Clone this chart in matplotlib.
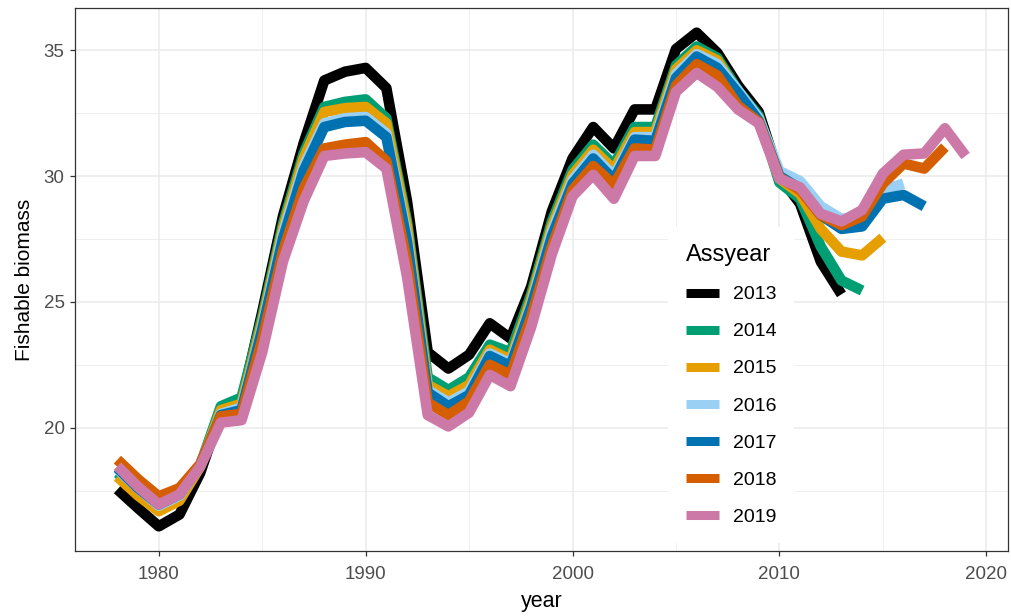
import matplotlib
matplotlib.use("Agg")
import matplotlib.pyplot as plt
from matplotlib.lines import Line2D
import numpy as np

# Fishable biomass estimates by assessment year (Assyear)
years = list(range(1978, 2020))

biomass_2013 = [17.55, 16.8, 16.08, 16.55, 18.2, 20.6, 21.0, 24.6, 28.4, 31.3,
                33.8, 34.15, 34.3, 33.5, 29.0, 23.0, 22.35, 22.9, 24.15, 23.55,
                25.6, 28.6, 30.7, 31.95, 31.1, 32.65, 32.65, 35.05, 35.7, 34.9,
                33.6, 32.55, 30.0, 28.9, 26.6, 25.3]
biomass_2014 = [18.2, 17.5, 16.8, 17.2, 18.5, 20.85, 21.2, 24.4, 28.1, 30.9,
                32.75, 32.95, 33.05, 32.3, 28.2, 22.0, 21.5, 22.0, 23.3, 23.0,
                25.3, 28.2, 30.25, 31.25, 30.45, 31.95, 31.95, 34.4, 35.15, 34.7,
                33.4, 32.4, 29.75, 29.1, 27.2, 25.85, 25.45]
biomass_2015 = [18.05, 17.3, 16.68, 17.1, 18.45, 20.7, 20.95, 24.2, 27.9, 30.7,
                32.55, 32.7, 32.75, 32.1, 28.0, 21.7, 21.25, 21.7, 23.1, 22.7,
                25.1, 28.0, 30.05, 31.05, 30.25, 31.75, 31.75, 34.25, 35.0, 34.6,
                33.3, 32.3, 29.9, 29.3, 27.9, 27.0, 26.85, 27.55]
biomass_2016 = [18.35, 17.6, 16.9, 17.3, 18.5, 20.55, 20.8, 24.0, 27.7, 30.4,
                32.1, 32.3, 32.35, 31.7, 27.6, 21.5, 21.0, 21.45, 22.95, 22.55,
                24.9, 27.8, 29.85, 30.85, 30.0, 31.55, 31.55, 34.05, 34.85, 34.45,
                33.4, 32.3, 30.2, 29.8, 28.8, 28.3, 28.4, 29.45, 29.7]
biomass_2017 = [18.4, 17.6, 16.95, 17.35, 18.5, 20.5, 20.7, 23.9, 27.5, 30.2,
                31.95, 32.15, 32.2, 31.55, 27.4, 21.4, 20.85, 21.3, 22.85, 22.45,
                24.8, 27.6, 29.7, 30.7, 29.85, 31.45, 31.4, 33.9, 34.75, 34.3,
                33.3, 32.2, 30.0, 29.5, 28.45, 27.9, 28.0, 29.1, 29.25, 28.8]
biomass_2018 = [18.73, 17.95, 17.27, 17.6, 18.55, 20.45, 20.55, 23.5, 27.0, 29.5,
                31.1, 31.25, 31.35, 30.6, 26.6, 21.0, 20.5, 21.05, 22.5, 22.1,
                24.4, 27.2, 29.45, 30.4, 29.65, 31.1, 31.05, 33.6, 34.45, 34.0,
                32.8, 32.15, 29.95, 29.45, 28.45, 28.05, 28.4, 29.7, 30.5, 30.3,
                31.15]
biomass_2019 = [18.47, 17.65, 16.95, 17.35, 18.45, 20.2, 20.3, 23.0, 26.6, 29.0,
                30.8, 30.9, 30.95, 30.3, 26.0, 20.5, 20.05, 20.6, 22.1, 21.65,
                24.0, 26.9, 29.2, 30.05, 29.1, 30.8, 30.8, 33.35, 34.1, 33.55,
                32.65, 32.1, 29.9, 29.55, 28.5, 28.2, 28.65, 30.1, 30.85, 30.9,
                31.9, 30.8]

assyears = ["2013", "2014", "2015", "2016", "2017", "2018", "2019"]
series = [biomass_2013, biomass_2014, biomass_2015, biomass_2016,
          biomass_2017, biomass_2018, biomass_2019]
colors = ["#000000", "#009E73", "#E69F00", "#9AD0F3",
          "#0072B2", "#D55E00", "#CC79A7"]

font = "Liberation Sans"
plt.rcParams["font.family"] = [font, "DejaVu Sans"]

fig = plt.figure(figsize=(10.12, 6.16), dpi=100)
ax = fig.add_axes([75 / 1012, 1 - 551 / 616, (1008 - 75) / 1012, (551 - 8) / 616])

lw = 7.6
for lab, vals, col in zip(assyears, series, colors):
    ax.plot(years[:len(vals)], vals, color=col, lw=lw,
            solid_joinstyle="round", solid_capstyle="butt", zorder=3)

# ggplot-like 5% expansion of the data range
all_vals = np.concatenate([np.asarray(s) for s in series])
x0, x1 = years[0], years[-1]
xr = x1 - x0
ax.set_xlim(x0 - 0.05 * xr, x1 + 0.05 * xr)
y0, y1 = all_vals.min(), all_vals.max()
yr = y1 - y0
ax.set_ylim(y0 - 0.05 * yr, y1 + 0.05 * yr)

ax.set_xticks([1980, 1990, 2000, 2010, 2020])
ax.set_xticks([1985, 1995, 2005, 2015], minor=True)
ax.set_yticks([20, 25, 30, 35])
ax.set_yticks([17.5, 22.5, 27.5, 32.5], minor=True)
ax.grid(which="major", color="#EBEBEB", lw=1.1, zorder=0)
ax.grid(which="minor", color="#EBEBEB", lw=0.55, zorder=0)
ax.set_axisbelow(True)

for sp in ax.spines.values():
    sp.set_color("#333333")
    sp.set_linewidth(0.9)

ax.tick_params(which="major", length=3.5, width=0.9, color="#333333",
               labelcolor="#4D4D4D", labelsize=13.5)
ax.tick_params(axis="x", which="major", pad=7)
ax.tick_params(axis="y", which="major", pad=4)
ax.tick_params(which="minor", length=0)

ax.set_xlabel("year", fontsize=15.5, color="black", labelpad=6)
ax.set_ylabel("Fishable biomass", fontsize=15, color="black", labelpad=7)

handles = [Line2D([0], [0], color=c, lw=6.5, solid_capstyle="butt") for c in colors]
leg = ax.legend(handles, assyears, title="Assyear", loc="upper left",
                bbox_to_anchor=(0.636, 0.597), frameon=True, fancybox=False,
                edgecolor="white", facecolor="white", framealpha=1,
                fontsize=14, title_fontsize=17, handlelength=1.7,
                handletextpad=0.7, labelspacing=1.0, borderpad=0.9,
                borderaxespad=0)
leg._legend_box.align = "left"
leg.get_frame().set_linewidth(0)
leg.set_zorder(5)

fig.savefig("out.png", dpi=100, facecolor="white")
